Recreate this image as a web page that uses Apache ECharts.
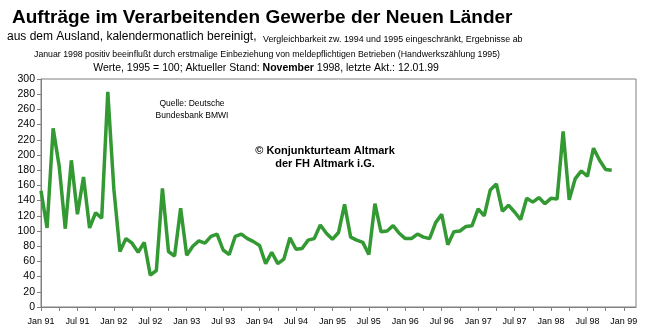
<!DOCTYPE html>
<html>
<head>
<meta charset="utf-8">
<script src="https://cdn.jsdelivr.net/npm/echarts@6/dist/echarts.min.js"></script>
<style>
html,body{margin:0;padding:0;background:#fff;}
#chart{width:654px;height:331px;}
</style>
</head>
<body>
<div id="chart"></div>
<script>
// Month label parts
var monthNames = ['Jan','Feb','Mar','Apr','May','Jun','Jul','Aug','Sep','Oct','Nov','Dec'];
var years = ['91','92','93','94','95','96','97','98','99'];
// Values (1995 = 100), one array per year
var v1991 = [153, 104, 235, 185, 103, 193, 122, 171, 104, 124, 117, 283];
var v1992 = [155, 73, 90, 84, 72, 85, 42, 48, 156, 73, 67, 130];
var v1993 = [68, 80, 87, 84, 93, 96, 75, 69, 93, 96, 90, 86];
var v1994 = [81, 57, 72, 57, 63, 91, 76, 77, 88, 90, 108, 97];
var v1995 = [89, 98, 135, 92, 88, 85, 69, 136, 99, 100, 107, 97];
var v1996 = [90, 90, 96, 92, 90, 111, 122, 82, 99, 100, 106, 107];
var v1997 = [129, 120, 154, 162, 126, 134, 125, 115, 143, 138, 144, 136];
var v1998 = [143, 142, 231, 141, 169, 179, 172, 209, 193, 181, 180];
var values = [].concat(v1991, v1992, v1993, v1994, v1995, v1996, v1997, v1998);

// Categories Jan 91 .. Mar 99
var categories = [];
for (var y = 0; y < years.length; y++) {
  for (var m = 0; m < 12; m++) {
    if (y === years.length - 1 && m > 2) break;
    categories.push(monthNames[m] + ' ' + years[y]);
  }
}

var chart = echarts.init(document.getElementById('chart'), null, {renderer: 'canvas'});
var FONT = '"Liberation Sans", Arial, sans-serif';
chart.setOption({
  backgroundColor: '#ffffff',
  animation: false,
  grid: {left: 41, right: 18, top: 79, bottom: 24, show: true, borderColor: '#808080', borderWidth: 1, backgroundColor: 'transparent'},
  xAxis: {
    type: 'category',
    data: categories,
    boundaryGap: false,
    axisLine: {lineStyle: {color: '#808080', width: 1}},
    axisTick: {show: true, length: 4, lineStyle: {color: '#808080'}, interval: function (i) { return i % 3 === 0; }},
    axisLabel: {interval: function (i) { return i % 6 === 0; }, color: '#000', fontSize: 9, fontFamily: FONT, margin: 10},
    splitLine: {show: false}
  },
  yAxis: {
    type: 'value',
    min: 0, max: 300, interval: 20,
    axisLine: {show: true, lineStyle: {color: '#808080', width: 1}},
    axisTick: {show: true, length: 4, lineStyle: {color: '#808080'}},
    axisLabel: {color: '#000', fontSize: 10.5, fontFamily: FONT, margin: 6},
    splitLine: {show: false}
  },
  series: [{
    type: 'line',
    data: values,
    symbol: 'none',
    smooth: false,
    lineStyle: {color: '#339933', width: 3.5},
    z: 5
  }],
  graphic: [
    {type: 'text', left: 12, top: 8, style: {text: 'Aufträge im Verarbeitenden Gewerbe der Neuen Länder', font: 'bold 19px ' + FONT, fill: '#000'}},
    {type: 'text', left: 7, top: 31, style: {text: 'aus dem Ausland, kalendermonatlich bereinigt,', font: '12px ' + FONT, fill: '#000'}},
    {type: 'text', left: 263, top: 35, style: {text: 'Vergleichbarkeit zw. 1994 und 1995 eingeschränkt, Ergebnisse ab', font: '8.9px ' + FONT, fill: '#000'}},
    {type: 'text', x: 267, y: 55, style: {text: 'Januar 1998 positiv beeinflußt durch erstmalige Einbeziehung von meldepflichtigen Betrieben (Handwerkszählung 1995)', font: '8.75px ' + FONT, fill: '#000', textAlign: 'center', textVerticalAlign: 'middle'}},
    {type: 'text', x: 266, y: 68, style: {text: 'Werte, 1995 = 100; Aktueller Stand: {b|November} 1998, letzte Akt.: 12.01.99', font: '10.5px ' + FONT, fill: '#000', textAlign: 'center', textVerticalAlign: 'middle', rich: {b: {fontWeight: 'bold', fontSize: 10.5, fontFamily: FONT}}}},
    {type: 'text', x: 192, y: 104, style: {text: 'Quelle: Deutsche', font: '8.5px ' + FONT, fill: '#000', textAlign: 'center', textVerticalAlign: 'middle'}},
    {type: 'text', x: 192, y: 116, style: {text: 'Bundesbank BMWI', font: '8.5px ' + FONT, fill: '#000', textAlign: 'center', textVerticalAlign: 'middle'}},
    {type: 'text', x: 325, y: 150.5, style: {text: '© Konjunkturteam Altmark', font: 'bold 11px ' + FONT, fill: '#000', textAlign: 'center', textVerticalAlign: 'middle'}},
    {type: 'text', x: 325, y: 164, style: {text: 'der FH Altmark i.G.', font: 'bold 11px ' + FONT, fill: '#000', textAlign: 'center', textVerticalAlign: 'middle'}}
  ]
});
</script>
</body>
</html>
